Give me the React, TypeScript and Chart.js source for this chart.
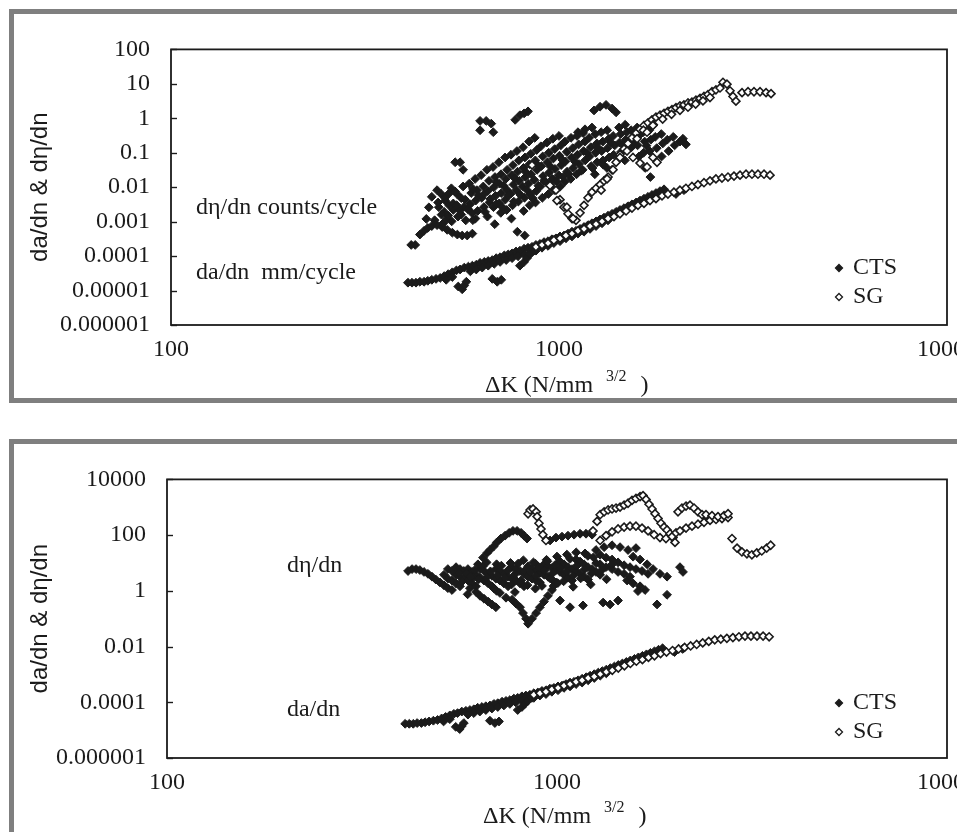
import { useEffect, useRef } from 'react';
import { Chart, registerables } from 'chart.js';

Chart.register(...registerables);

type Pair = [number, number];

const SERIF = "'Liberation Serif', 'Times New Roman', serif";
const SANS = "'Liberation Sans', Arial, sans-serif";
const INK = '#1b1b1b';
const FRAME = '#7f7f7f';

// ΔK axis (N/mm^3/2)
const kTicks = [100, 1000, 10000];
const kTickLabels = ['100', '1000', '10000'];

// rate axes
const upperRateTicks = [1e-6, 1e-5, 1e-4, 1e-3, 1e-2, 1e-1, 1, 10, 100];
const upperRateTickLabels = ['0.000001', '0.00001', '0.0001', '0.001', '0.01', '0.1', '1', '10', '100'];
const lowerRateTicks = [1e-6, 1e-4, 1e-2, 1, 100, 10000];
const lowerRateTickLabels = ['0.000001', '0.0001', '0.01', '1', '100', '10000'];

// da/dn (mm/cycle) vs ΔK, CTS specimens
const ctsCrackGrowth: Pair[] = [
  [408, 1.69e-5], [418, 1.69e-5], [428, 1.69e-5], [438, 1.8e-5], [449, 1.8e-5], [459, 1.92e-5],
  [470, 2.05e-5], [482, 2.18e-5], [494, 2.32e-5], [506, 2.63e-5], [518, 2.99e-5], [531, 3.39e-5],
  [544, 3.84e-5], [556, 4.09e-5], [570, 4.64e-5], [584, 4.94e-5], [598, 5.27e-5], [612, 5.61e-5],
  [626, 6.36e-5], [642, 6.78e-5], [657, 7.22e-5], [673, 7.69e-5], [689, 8.72e-5], [705, 9.29e-5],
  [723, 1.05e-4], [740, 1.12e-4], [757, 1.2e-4], [775, 1.36e-4], [793, 1.44e-4], [813, 1.64e-4],
  [832, 1.75e-4], [852, 1.86e-4], [872, 2.11e-4], [893, 2.25e-4], [915, 2.55e-4], [937, 2.71e-4],
  [959, 3.08e-4], [982, 3.28e-4], [1006, 3.72e-4], [1030, 3.96e-4], [1055, 4.5e-4], [1080, 5.1e-4],
  [1106, 5.43e-4], [1133, 6.16e-4], [1160, 6.99e-4], [1188, 7.93e-4], [1216, 8.99e-4], [1246, 1.02e-3],
  [1276, 1.16e-3], [1306, 1.31e-3], [1338, 1.49e-3], [1370, 1.69e-3], [1403, 1.92e-3], [1436, 2.18e-3],
  [1471, 2.47e-3], [1506, 2.8e-3], [1542, 3.18e-3], [1580, 3.6e-3], [1617, 4.09e-3], [1656, 4.64e-3],
  [1696, 5.26e-3], [1736, 5.96e-3], [1778, 6.77e-3], [1821, 7.7e-3], [1865, 8.7e-3],
  [512, 2.05e-5], [531, 2.47e-5], [550, 1.31e-5], [563, 1.09e-5], [570, 1.4e-5], [577, 1.8e-5],
  [591, 3.61e-5], [612, 4.09e-5], [634, 4.64e-5], [657, 5.27e-5], [681, 5.97e-5], [705, 6.78e-5],
  [731, 7.69e-5], [757, 8.72e-5], [784, 9.9e-5], [813, 1.12e-4], [842, 1.27e-4], [872, 1.44e-4],
  [904, 1.75e-4], [937, 1.98e-4], [970, 2.39e-4], [1006, 2.71e-4], [1042, 3.28e-4], [1080, 3.72e-4],
  [1119, 4.5e-4], [1160, 5.1e-4], [1202, 6.16e-4], [1246, 7.44e-4], [1291, 8.99e-4], [1338, 1.09e-3],
  [673, 2.18e-5], [693, 1.8e-5], [710, 2.05e-5], [793, 5.27e-5], [813, 6.78e-5], [827, 8.72e-5],
  [842, 1.12e-4], [862, 1.44e-4], [2099, 8.2e-3], [2002, 6.35e-3],
];

// da/dn (mm/cycle) vs ΔK, SG specimens
const sgCrackGrowth: Pair[] = [
  [872, 1.86e-4], [904, 2.11e-4], [937, 2.39e-4], [970, 2.89e-4], [1006, 3.28e-4], [1042, 3.96e-4],
  [1080, 4.5e-4], [1119, 5.43e-4], [1160, 6.16e-4], [1202, 7.44e-4], [1246, 8.44e-4], [1291, 1.02e-3],
  [1338, 1.23e-3], [1386, 1.4e-3], [1436, 1.69e-3], [1489, 2.04e-3], [1542, 2.47e-3], [1598, 2.98e-3],
  [1656, 3.38e-3], [1716, 4.09e-3], [1778, 4.64e-3], [1843, 5.6e-3], [1909, 6.35e-3], [1978, 7.2e-3],
  [2050, 8.2e-3], [2124, 9.3e-3], [2201, 0.0105], [2281, 0.0119], [2364, 0.0135], [2450, 0.0153],
  [2538, 0.0174], [2630, 0.0185], [2726, 0.0197], [2825, 0.021], [2928, 0.0224], [3034, 0.0238],
  [3143, 0.0238], [3257, 0.0238], [3376, 0.0238], [3499, 0.0224],
];

// dη/dn (counts/cycle) vs ΔK, CTS specimens
const ctsCountRate: Pair[] = [
  [416, 2.11e-4], [426, 2.11e-4], [438, 4.22e-4], [449, 5.43e-4], [459, 6.56e-4], [470, 7.44e-4],
  [485, 7.93e-4], [500, 6.99e-4], [515, 5.78e-4], [531, 4.79e-4], [547, 4.22e-4], [563, 3.96e-4],
  [580, 3.96e-4], [598, 4.5e-4],
  [470, 5.26e-3], [485, 8.2e-3], [497, 6.35e-3], [509, 4.09e-3], [521, 2.98e-3], [534, 2.18e-3], [506, 1.92e-3],
  [540, 0.053], [556, 0.053], [566, 0.032],
  [626, 0.84], [649, 0.84], [669, 0.7], [626, 0.45], [677, 0.395],
  [771, 0.9], [793, 1.23], [813, 1.39], [832, 1.59],
  [1231, 1.69], [1276, 2.17], [1322, 2.45], [1370, 1.92], [1403, 1.49],
  [1119, 0.395], [1167, 0.48], [1216, 0.54],
  [2087, 0.255], [2124, 0.175],
  [490, 2.63e-3], [498, 1.59e-3],
  [508, 4.94e-3], [515, 1.23e-3],
  [528, 9.3e-3], [534, 3.38e-3], [529, 1.02e-3],
  [546, 6.35e-3], [553, 2.18e-3], [549, 1.4e-3],
  [566, 0.0105], [573, 4.35e-3], [568, 2.63e-3], [575, 1.09e-3],
  [587, 0.0127], [594, 6.77e-3], [590, 3.18e-3], [596, 1.8e-3],
  [608, 0.0174], [615, 8.2e-3], [610, 4.09e-3], [617, 2.04e-3], [609, 1.23e-3],
  [630, 0.0224], [638, 0.0105], [632, 4.94e-3], [640, 2.63e-3],
  [652, 0.032], [660, 0.0153], [655, 7.7e-3], [662, 3.6e-3], [654, 1.4e-3],
  [676, 0.0386], [684, 0.0197], [679, 9.9e-3], [686, 5.6e-3], [678, 2.63e-3], [683, 8.44e-4],
  [700, 0.053], [709, 0.0238], [703, 0.0127], [710, 6.77e-3], [701, 3.38e-3], [708, 1.8e-3],
  [726, 0.073], [735, 0.032], [729, 0.0174], [736, 8.2e-3], [727, 4.35e-3], [733, 2.18e-3],
  [752, 0.0875], [761, 0.0438], [755, 0.0224], [763, 0.0119], [750, 6.35e-3], [759, 2.98e-3], [754, 1.23e-3],
  [779, 0.112], [788, 0.06], [782, 0.0282], [790, 0.0153], [777, 8.2e-3], [786, 3.84e-3], [781, 5.1e-4],
  [808, 0.145], [817, 0.073], [810, 0.0363], [819, 0.0197], [806, 0.0105], [815, 4.94e-3], [811, 2.04e-3], [816, 3.96e-4],
  [837, 0.211], [846, 0.093], [839, 0.0466], [848, 0.0238], [835, 0.0127], [844, 6.35e-3], [840, 2.98e-3],
  [866, 0.271], [876, 0.12], [869, 0.06], [878, 0.032], [864, 0.0163], [874, 7.7e-3], [870, 3.6e-3],
  [898, 0.154], [908, 0.078], [901, 0.041], [910, 0.021], [896, 0.0105], [906, 4.94e-3],
  [931, 0.198], [941, 0.1], [934, 0.053], [943, 0.0265], [929, 0.0135], [939, 6.35e-3],
  [964, 0.255], [975, 0.128], [967, 0.068], [977, 0.034], [962, 0.0174], [972, 8.2e-3],
  [1000, 0.308], [1011, 0.164], [1003, 0.082], [1013, 0.0438], [998, 0.0224], [1008, 0.0105],
  [1036, 0.211], [1047, 0.106], [1039, 0.056], [1049, 0.0282], [1034, 0.0144],
  [1074, 0.271], [1085, 0.136], [1077, 0.073], [1088, 0.0363], [1072, 0.0174],
  [1113, 0.308], [1124, 0.175], [1116, 0.0875], [1127, 0.047], [1110, 0.0238],
  [1154, 0.372], [1166, 0.211], [1157, 0.112], [1168, 0.06], [1151, 0.032],
  [1196, 0.271], [1208, 0.145], [1199, 0.078], [1210, 0.041],
  [1240, 0.349], [1252, 0.186], [1243, 0.1], [1254, 0.053], [1237, 0.0238],
  [1284, 0.395], [1297, 0.211], [1288, 0.112], [1299, 0.06],
  [1331, 0.45], [1344, 0.255], [1334, 0.136], [1346, 0.073], [1329, 0.0363],
  [1379, 0.308], [1392, 0.164], [1383, 0.0875],
  [1428, 0.54], [1442, 0.349], [1432, 0.198], [1445, 0.106],
  [1481, 0.65], [1495, 0.395], [1485, 0.239], [1498, 0.128], [1478, 0.06],
  [1534, 0.45], [1549, 0.271], [1538, 0.145],
  [1590, 0.54], [1605, 0.308], [1594, 0.164], [1608, 0.078],
  [1648, 0.395], [1663, 0.211], [1652, 0.1], [1666, 0.0363],
  [1708, 0.45], [1724, 0.239], [1712, 0.112], [1720, 0.0197],
  [1770, 0.289], [1786, 0.136],
  [1835, 0.349], [1851, 0.186], [1839, 0.078],
  [1901, 0.239], [1917, 0.112],
  [1970, 0.289], [1986, 0.164],
  [2050, 0.211],
  [520, 6.5e-3], [560, 4.8e-3], [600, 9.0e-3], [640, 6.2e-3], [690, 0.014], [720, 0.011],
  [770, 0.018], [820, 0.028], [880, 0.045], [950, 0.04], [1020, 0.062], [1100, 0.055],
  [1180, 0.1], [1260, 0.14], [1360, 0.2], [1460, 0.17], [1560, 0.21], [1680, 0.16],
  [455, 1.2e-3], [462, 2.6e-3], [478, 1.1e-3], [488, 3.6e-3], [503, 9.0e-4], [518, 1.5e-3],
  [540, 7.5e-3], [545, 3.0e-3], [560, 1.6e-3], [582, 2.3e-3], [600, 1.1e-3], [620, 5.8e-3],
  [645, 1.9e-3], [665, 4.5e-3], [690, 3.3e-3], [715, 2.6e-3], [740, 5.8e-3], [765, 3.8e-3],
  [795, 6.0e-3], [825, 8.5e-3], [855, 4.8e-3], [885, 0.011], [915, 0.0155], [950, 0.012],
  [985, 0.015], [1025, 0.02], [1060, 0.024], [1140, 0.03], [1220, 0.036], [1300, 0.045],
];

// dη/dn (counts/cycle) vs ΔK, SG specimens
const sgCountRate: Pair[] = [
  [982, 8.2e-3], [1006, 4.35e-3], [1030, 2.63e-3], [1055, 1.69e-3], [1080, 1.23e-3], [1106, 1.09e-3],
  [1133, 1.8e-3], [1160, 2.98e-3], [1188, 4.94e-3], [1216, 7.2e-3], [1246, 9.3e-3], [1276, 0.0119],
  [1306, 0.0153], [1338, 0.0197], [1370, 0.032], [1403, 0.053], [1436, 0.0875], [1471, 0.128],
  [1506, 0.186], [1542, 0.271], [1580, 0.372], [1617, 0.48], [1656, 0.62], [1696, 0.74],
  [1736, 0.9], [1778, 1.08], [1821, 1.23], [1865, 1.39], [1909, 1.59], [1955, 1.79],
  [2002, 2.04], [2050, 2.3], [2099, 2.45], [2150, 2.78], [2201, 2.96], [2254, 3.36],
  [2309, 3.8], [2364, 4.31], [2421, 4.89], [2479, 5.9], [2538, 6.7], [2600, 7.6],
  [2646, 11.1], [2710, 9.8], [2759, 6.29], [2808, 4.31], [2858, 3.15], [2963, 5.55],
  [3070, 5.9], [3181, 5.9], [3297, 5.9], [3417, 5.55], [3520, 5.2],
  [1650, 0.45], [1750, 0.65], [1850, 0.95], [1950, 1.3], [2050, 1.7], [2150, 2.1], [2250, 2.6],
  [2350, 3.2], [2450, 4.0],
  [852, 0.0438], [948, 0.0112], [988, 4.09e-3], [1048, 2.63e-3], [1087, 1.23e-3], [1284, 8.2e-3],
  [1330, 0.0174], [1378, 0.032], [1436, 0.073], [1497, 0.112], [1551, 0.073], [1617, 0.05],
  [1686, 0.0386], [1746, 0.073], [1789, 0.053], [1589, 0.255], [1686, 0.395], [1746, 0.62],
];

// dη/dn vs ΔK, CTS specimens (second test series)
const ctsEventRate: Pair[] = [
  [415, 5.16], [425, 6.04], [435, 6.04], [445, 5.58], [456, 4.77], [467, 4.07], [478, 3.22],
  [489, 2.54], [501, 2.0], [513, 1.58], [525, 1.25], [538, 1.07],
  [513, 3.76], [525, 2.74], [538, 2.35], [551, 1.85], [564, 1.46],
  [551, 3.76], [564, 3.22], [577, 2.74], [591, 2.35], [605, 1.85], [620, 1.46],
  [525, 6.04], [538, 5.16], [551, 7.08], [564, 6.04], [577, 5.16], [591, 6.04], [605, 4.77],
  [620, 3.76], [635, 2.97], [650, 2.35], [666, 1.85], [681, 1.46],
  [635, 6.04], [650, 5.16], [666, 4.07], [681, 3.48], [697, 2.74], [714, 2.35], [731, 1.85], [749, 1.46],
  [697, 6.04], [714, 5.16], [731, 4.07], [749, 3.22], [767, 2.74], [785, 2.35], [804, 1.85], [823, 1.46],
  [767, 7.08], [785, 6.04], [804, 5.16], [823, 4.07], [843, 3.22], [863, 2.74], [884, 2.35], [904, 2.0],
  [843, 7.66], [863, 6.04], [884, 5.16], [904, 4.41], [926, 3.76], [948, 3.22], [971, 2.54], [994, 2.0],
  [926, 8.97], [948, 7.66], [971, 6.54], [994, 5.58], [1018, 4.77], [1042, 3.76], [1067, 2.97], [1093, 2.35],
  [1018, 11.3], [1042, 8.97], [1067, 7.08], [1093, 6.04], [1119, 5.16], [1146, 4.07], [1173, 3.22], [1201, 2.54],
  [1119, 13.3], [1146, 11.3], [1173, 8.97], [1201, 7.08], [1230, 6.04], [1259, 4.77], [1290, 3.76],
  [598, 1.25], [620, 0.91], [635, 0.66], [650, 0.52], [666, 0.41], [681, 0.325], [697, 0.258],
  [714, 0.84], [740, 0.566], [767, 0.48], [785, 0.35], [804, 0.258], [818, 0.16], [833, 0.1],
  [843, 0.066], [863, 0.1], [884, 0.16], [904, 0.258], [926, 0.41], [948, 0.66], [971, 1.07],
  [1018, 0.45], [1080, 0.258], [1166, 0.3], [1313, 0.38], [1368, 0.325], [1434, 0.45],
  [1805, 0.325], [1915, 0.72], [2104, 4.77], [2067, 7.08],
  [627, 8.97], [646, 15.5], [662, 23.0], [673, 29.2], [689, 40.0], [701, 54.9], [718, 75.4],
  [736, 95.5], [754, 121], [771, 142], [790, 142], [809, 121], [823, 95.5], [838, 75.4],
  [960, 64.3], [994, 81.6], [1030, 88.3], [1067, 95.5], [1106, 103.5], [1146, 112], [1187, 112], [1230, 103.5],
  [1290, 8.97], [1336, 7.08], [1384, 6.04], [1434, 4.77], [1486, 4.07],
  [1290, 19.7], [1336, 15.5], [1384, 13.3], [1434, 10.5], [1486, 8.29], [1539, 7.08], [1594, 6.04],
  [1652, 5.16], [1712, 4.07],
  [1567, 16.8], [1633, 13.3], [1702, 8.97], [1763, 6.04], [1837, 4.07], [1915, 3.22],
  [1513, 2.35], [1567, 1.85], [1633, 1.46], [1682, 1.07], [1539, 3.22], [1613, 0.98],
  [1259, 29.2], [1321, 37.0], [1384, 43.3], [1451, 37.0], [1521, 29.2], [1594, 34.2],
  [560, 4.4], [610, 3.0], [660, 10.5], [700, 9.0], [760, 10.0], [820, 12.5], [880, 9.5],
  [940, 13.0], [1000, 17.0], [1060, 20.0], [1120, 24.0], [1180, 22.0], [1240, 16.0],
  [590, 0.75], [700, 1.0], [780, 0.9], [880, 1.2], [980, 1.5], [1100, 1.4], [1220, 1.7],
  [570, 2.1], [585, 4.2], [600, 3.3], [615, 5.5], [630, 2.6], [645, 7.5], [660, 3.0], [675, 5.0],
  [690, 1.2], [705, 3.6], [720, 8.0], [735, 2.9], [750, 5.6], [765, 1.7], [780, 3.9], [795, 9.5],
  [810, 2.4], [825, 5.2], [840, 1.6], [855, 4.5], [870, 10.5], [885, 3.4], [900, 6.8], [915, 1.5],
  [930, 5.4], [945, 11.5], [960, 2.8], [975, 4.3], [990, 8.6], [1005, 1.9], [1020, 6.5], [1040, 2.2],
  [1060, 4.9], [1080, 14], [1100, 3.5], [1125, 8.0], [1150, 2.8], [1175, 5.8], [1200, 18], [1225, 4.2],
  [1260, 9.8], [1300, 5.4], [1340, 2.6], [1380, 8.5],
];

// dη/dn vs ΔK, SG specimens (second test series)
const sgEventRate: Pair[] = [
  [843, 585], [853, 801], [868, 867], [884, 685], [889, 462], [899, 266], [910, 166], [920, 103.5], [937, 64.3],
  [1237, 142], [1267, 311], [1290, 541], [1321, 685], [1352, 801], [1384, 867], [1417, 938],
  [1451, 1015], [1486, 1190], [1521, 1393], [1557, 1764], [1594, 2065], [1633, 2418], [1662, 2616],
  [1692, 1909], [1722, 1287], [1753, 867], [1784, 585], [1816, 395], [1848, 266], [1881, 194],
  [1915, 153], [1949, 112], [1984, 81.6], [2007, 54.9],
  [1290, 64.3], [1336, 95.5], [1384, 131], [1434, 166], [1486, 194], [1539, 210], [1594, 210],
  [1652, 179], [1712, 142], [1774, 103.5], [1837, 81.6], [1903, 75.4], [1972, 88.3], [2019, 121],
  [2067, 142], [2142, 179], [2219, 210], [2299, 246], [2382, 288], [2468, 337], [2557, 364],
  [2649, 395], [2745, 427],
  [2043, 685], [2091, 938], [2142, 1100], [2193, 1190], [2246, 938], [2299, 685], [2354, 541],
  [2410, 541], [2497, 500], [2587, 462], [2681, 500], [2745, 585],
  [2810, 75.4], [2895, 34.2], [2980, 24.9], [3069, 21.3], [3160, 19.7], [3253, 23.0], [3350, 27.0],
  [3449, 34.2], [3531, 43.3],
];

type Note = { text: string; k: number; rate: number };

interface PanelSpec {
  canvasHeight: number;
  plotTop: number;
  plotLeft: number;
  plotBottom: number;
  rateMin: number;
  rateMax: number;
  rateTicks: number[];
  rateTickLabels: string[];
  cts: Pair[][];
  sg: Pair[][];
  notes: Note[];
  legendRows: [number, number];
  titleGap: number;
}

const CANVAS_WIDTH = 1000;
const PLOT_RIGHT = 933;

const upperPanel: PanelSpec = {
  canvasHeight: 384,
  plotTop: 18,
  plotLeft: 157,
  plotBottom: 311,
  rateMin: 1e-6,
  rateMax: 100,
  rateTicks: upperRateTicks,
  rateTickLabels: upperRateTickLabels,
  cts: [ctsCrackGrowth, ctsCountRate],
  sg: [sgCrackGrowth, sgCountRate],
  notes: [
    { text: 'dη/dn counts/cycle', k: 116, rate: 2.6e-3 },
    { text: 'da/dn  mm/cycle', k: 116, rate: 3.2e-5 },
  ],
  legendRows: [57, 28],
  titleGap: 61,
};

const lowerPanel: PanelSpec = {
  canvasHeight: 388,
  plotTop: 21,
  plotLeft: 153,
  plotBottom: 314,
  rateMin: 1e-6,
  rateMax: 10000,
  rateTicks: lowerRateTicks,
  rateTickLabels: lowerRateTickLabels,
  cts: [ctsCrackGrowth, ctsEventRate],
  sg: [sgCrackGrowth, sgEventRate],
  notes: [
    { text: 'dη/dn', k: 203, rate: 7.7 },
    { text: 'da/dn', k: 203, rate: 5.6e-5 },
  ],
  legendRows: [55, 26],
  titleGap: 59,
};

const toPoints = (pairs: Pair[]) => pairs.map(([x, y]) => ({ x, y }));

function diamond(ctx: CanvasRenderingContext2D, x: number, y: number, r: number, filled: boolean) {
  ctx.beginPath();
  ctx.moveTo(x, y - r);
  ctx.lineTo(x + r, y);
  ctx.lineTo(x, y + r);
  ctx.lineTo(x - r, y);
  ctx.closePath();
  ctx.fillStyle = filled ? INK : '#ffffff';
  ctx.fill();
  ctx.lineWidth = 1.3;
  ctx.strokeStyle = INK;
  ctx.stroke();
}

function decorations(spec: PanelSpec) {
  return {
    id: 'panelDecorations',
    afterDatasetsDraw(chart: Chart) {
      const { ctx, chartArea: a } = chart;
      const xs = chart.scales.x;
      const ys = chart.scales.y;
      ctx.save();

      // plot frame
      ctx.strokeStyle = INK;
      ctx.lineWidth = 1.8;
      ctx.strokeRect(a.left, a.top, a.right - a.left, a.bottom - a.top);

      // inward tick marks on the rate axis
      ctx.lineWidth = 1.4;
      spec.rateTicks.forEach((v) => {
        const py = Math.round(ys.getPixelForValue(v)) + 0.5;
        ctx.beginPath();
        ctx.moveTo(a.left, py);
        ctx.lineTo(a.left + 6, py);
        ctx.stroke();
      });

      // curve labels
      ctx.fillStyle = INK;
      ctx.font = `24px ${SERIF}`;
      ctx.textAlign = 'left';
      ctx.textBaseline = 'middle';
      spec.notes.forEach((n) => {
        ctx.fillText(n.text, xs.getPixelForValue(n.k), ys.getPixelForValue(n.rate));
      });

      // legend
      const lx = a.right - 108;
      const rows: [string, boolean, number][] = [
        ['CTS', true, spec.legendRows[0]],
        ['SG', false, spec.legendRows[1]],
      ];
      rows.forEach(([label, filled, up]) => {
        const ly = a.bottom - up;
        diamond(ctx, lx, ly, 3.5, filled);
        ctx.fillStyle = INK;
        ctx.font = `24px ${SERIF}`;
        ctx.textAlign = 'left';
        ctx.textBaseline = 'middle';
        ctx.fillText(label, lx + 14, ly);
      });

      // ΔK axis title with superscript exponent
      const cx = (a.left + a.right) / 2;
      const ty = a.bottom + spec.titleGap;
      let tx = cx - 74;
      ctx.textBaseline = 'middle';
      ctx.font = `24px ${SERIF}`;
      const head = 'ΔK (N/mm';
      ctx.fillText(head, tx, ty);
      tx += ctx.measureText(head).width + 13;
      ctx.font = `16px ${SERIF}`;
      ctx.fillText('3/2', tx, ty - 9);
      tx += ctx.measureText('3/2').width + 14;
      ctx.font = `24px ${SERIF}`;
      ctx.fillText(')', tx, ty);

      ctx.restore();
    },
  };
}

function buildConfig(spec: PanelSpec): any {
  const ctsStyle = {
    pointStyle: 'rectRot',
    pointRadius: 4.4,
    backgroundColor: INK,
    borderColor: INK,
    borderWidth: 1,
    showLine: false,
    order: 2,
  };
  const sgStyle = {
    pointStyle: 'rectRot',
    pointRadius: 4,
    backgroundColor: '#ffffff',
    borderColor: INK,
    borderWidth: 1.6,
    showLine: false,
    order: 1,
  };
  return {
    type: 'scatter',
    data: {
      datasets: [
        ...spec.cts.map((p, i) => ({ label: `CTS ${i}`, data: toPoints(p), ...ctsStyle })),
        ...spec.sg.map((p, i) => ({ label: `SG ${i}`, data: toPoints(p), ...sgStyle })),
      ],
    },
    options: {
      responsive: false,
      animation: false,
      devicePixelRatio: 1,
      events: [],
      layout: {
        autoPadding: false,
        padding: { left: 0, top: spec.plotTop, right: CANVAS_WIDTH - PLOT_RIGHT, bottom: 0 },
      },
      plugins: { legend: { display: false }, tooltip: { enabled: false } },
      scales: {
        x: {
          type: 'logarithmic',
          position: 'bottom',
          min: 100,
          max: 10000,
          afterBuildTicks: (s: any) => {
            s.ticks = kTicks.map((value) => ({ value }));
          },
          afterFit: (s: any) => {
            s.height = spec.canvasHeight - spec.plotBottom;
          },
          grid: { display: false, drawTicks: false },
          border: { display: false },
          ticks: {
            autoSkip: false,
            maxRotation: 0,
            padding: 10,
            color: INK,
            font: { family: SERIF, size: 24 },
            callback: (_v: number, i: number) => kTickLabels[i],
          },
        },
        y: {
          type: 'logarithmic',
          position: 'left',
          min: spec.rateMin,
          max: spec.rateMax,
          afterBuildTicks: (s: any) => {
            s.ticks = spec.rateTicks.map((value) => ({ value }));
          },
          afterFit: (s: any) => {
            s.width = spec.plotLeft;
          },
          grid: { display: false, drawTicks: false },
          border: { display: false },
          ticks: {
            autoSkip: false,
            padding: 21,
            color: INK,
            font: { family: SERIF, size: 24 },
            callback: (_v: number, i: number) => spec.rateTickLabels[i],
          },
          title: {
            display: true,
            text: 'da/dn & dη/dn',
            color: INK,
            font: { family: SANS, size: 24 },
            padding: { top: 12, bottom: 0 },
          },
        },
      },
    },
    plugins: [decorations(spec)],
  };
}

function Panel({ spec, top, height, bottomBorder }: { spec: PanelSpec; top: number; height: number; bottomBorder: boolean }) {
  const ref = useRef<HTMLCanvasElement>(null);
  useEffect(() => {
    if (!ref.current) return;
    const chart = new Chart(ref.current, buildConfig(spec));
    return () => chart.destroy();
  }, [spec]);
  return (
    <div
      style={{
        position: 'absolute',
        left: 9,
        top,
        width: 1100,
        height,
        boxSizing: 'border-box',
        borderTop: `5px solid ${FRAME}`,
        borderLeft: `5px solid ${FRAME}`,
        borderBottom: bottomBorder ? `5px solid ${FRAME}` : 'none',
        background: '#ffffff',
      }}
    >
      <canvas
        ref={ref}
        width={CANVAS_WIDTH}
        height={spec.canvasHeight}
        style={{ display: 'block', width: CANVAS_WIDTH, height: spec.canvasHeight }}
      />
    </div>
  );
}

export default function App() {
  return (
    <div
      style={{
        position: 'fixed',
        left: 0,
        top: 0,
        width: 957,
        height: 832,
        overflow: 'hidden',
        background: '#ffffff',
      }}
    >
      <Panel spec={upperPanel} top={9} height={394} bottomBorder />
      <Panel spec={lowerPanel} top={439} height={420} bottomBorder={false} />
    </div>
  );
}
